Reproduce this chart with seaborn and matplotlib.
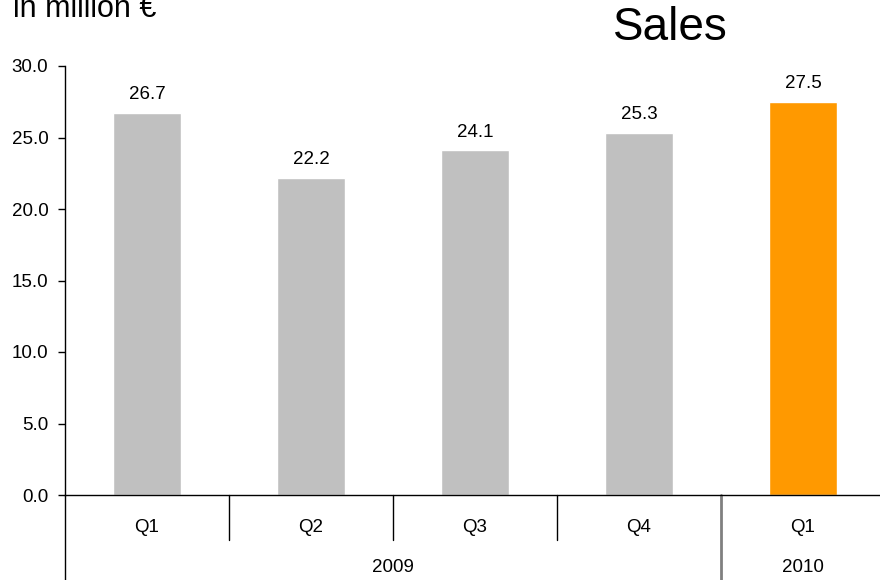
import matplotlib
matplotlib.use("Agg")
import matplotlib.pyplot as plt
import matplotlib.transforms as mtransforms
import seaborn as sns
import pandas as pd

# ---- data ----
quarters = ["Q1", "Q2", "Q3", "Q4", "Q1"]
years = ["2009", "2009", "2009", "2009", "2010"]
sales = [26.7, 22.2, 24.1, 25.3, 27.5]
bar_colors = ["#C0C0C0", "#C0C0C0", "#C0C0C0", "#C0C0C0", "#FF9900"]
title = "Sales"
unit_label = "in million €"

sns.set_theme(style="white")
plt.rcParams["font.family"] = ["Liberation Sans", "DejaVu Sans"]

ids = [f"{y} {q}" for y, q in zip(years, quarters)]
df = pd.DataFrame({"id": ids, "sales": sales})

fig = plt.figure(figsize=(8.8, 5.8), dpi=100)
ax = fig.add_axes([65 / 880, 1 - 495 / 580, 1 - 65 / 880, (495 - 66) / 580])

sns.barplot(data=df, x="id", y="sales", hue="id", palette=bar_colors,
            legend=False, width=0.41, ax=ax, saturation=1)

n = len(sales)
ax.set_xlim(-0.5, n - 0.53)
ax.set_ylim(0, 30)
ax.set_yticks([0, 5, 10, 15, 20, 25, 30])
ax.set_yticklabels([f"{v:.1f}" for v in [0, 5, 10, 15, 20, 25, 30]])
ax.tick_params(axis="y", left=True, length=5, width=1, color="black",
               pad=7, labelsize=13.5, labelcolor="black")
ax.set_xticks([])
ax.set_xlabel("")
ax.set_ylabel("")
for s in ["top", "right"]:
    ax.spines[s].set_visible(False)
for s in ["left", "bottom"]:
    ax.spines[s].set_color("black")
    ax.spines[s].set_linewidth(1)
ax.spines["left"].set_bounds(0, 30)

# value labels
for i, v in enumerate(sales):
    ax.annotate(f"{v:.1f}", (i, v), xytext=(0, 7), textcoords="offset points",
                ha="center", va="bottom", fontsize=13.5, color="black")

trans = mtransforms.blended_transform_factory(ax.transData, ax.transAxes)
px = 1.0 / 429  # one pixel in axes fraction (vertical)

# quarter labels
for i, q in enumerate(quarters):
    ax.text(i, -33 * px, q, transform=trans, ha="center", va="center",
            fontsize=13.5, color="black")

# separators between quarters & years
for i in range(n - 1):
    if years[i] != years[i + 1]:
        ax.plot([i + 0.5, i + 0.5], [0, -86 * px], transform=trans,
                color="#808080", lw=2, clip_on=False)
    else:
        ax.plot([i + 0.5, i + 0.5], [0, -45 * px], transform=trans,
                color="black", lw=1, clip_on=False)
# left spine extension
ax.plot([-0.5, -0.5], [0, -86 * px], transform=trans, color="black", lw=1,
        clip_on=False)

# year labels
uniq = []
for y in years:
    if y not in uniq:
        uniq.append(y)
for y in uniq:
    idx = [i for i, yy in enumerate(years) if yy == y]
    left = idx[0] - 0.5
    right = idx[-1] + 0.5
    if y == years[-1]:
        right = idx[-1]
        left = idx[-1]
        center = idx[-1]
    else:
        center = (left + right) / 2
    ax.text(center, -73 * px, y, transform=trans, ha="center", va="center",
            fontsize=13.5, color="black")

fig.text(670 / 880, 1 - 28 / 580, title, ha="center", va="center",
         fontsize=33, color="black")
fig.text(13 / 880, 1 - 17 / 580, unit_label, ha="left", va="baseline",
         fontsize=22, color="black")

fig.savefig("out.png", dpi=100)
